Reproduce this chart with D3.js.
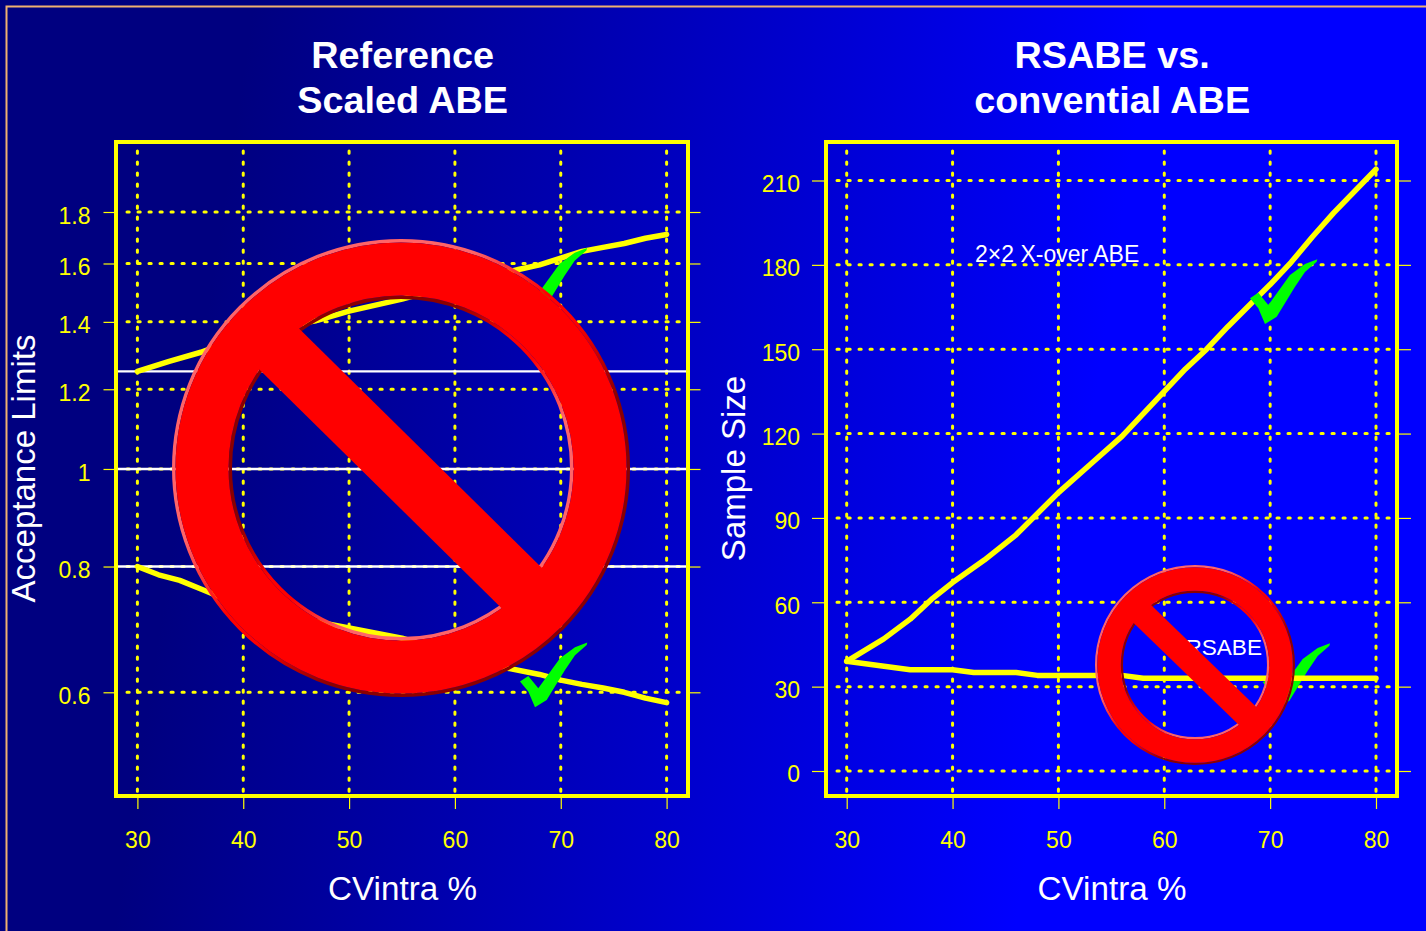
<!DOCTYPE html>
<html>
<head>
<meta charset="utf-8">
<script src="https://cdn.jsdelivr.net/npm/d3@7/dist/d3.min.js"></script>
<style>
html,body{margin:0;padding:0;background:#0000b0;overflow:hidden}
svg{display:block}
text{font-family:"Liberation Sans",Arial,sans-serif}
</style>
</head>
<body>
<svg id="c" width="1426" height="931"></svg>
<script>
// ---- data ----
const xTicks = [30, 40, 50, 60, 70, 80];
const limitTicks = [0.6, 0.8, 1, 1.2, 1.4, 1.6, 1.8];
const sizeTicks = [0, 30, 60, 90, 120, 150, 180, 210];
const referenceLimits = [1.25, 1, 0.8];

const upperCV = [30, 33, 36, 38, 42, 47, 50, 55, 60, 64, 66, 68, 70, 72, 74, 76, 78, 80];
const upperLimit = [1.25, 1.279, 1.306, 1.33, 1.37, 1.405, 1.435, 1.475, 1.525, 1.56, 1.578, 1.595, 1.62, 1.645, 1.66, 1.675, 1.695, 1.71];
const lowerCV = [30, 32, 34, 36, 38, 42, 46, 50, 55, 60, 65, 68, 70, 72, 74, 76, 78, 80];
const lowerLimit = [0.8, 0.785, 0.775, 0.76, 0.745, 0.725, 0.708, 0.695, 0.679, 0.655, 0.634, 0.625, 0.617, 0.611, 0.606, 0.6, 0.592, 0.586];

const xoverCV = [30, 33.5, 36, 38, 40, 43, 46, 50, 53, 56, 60, 62, 64, 66, 70, 72, 74, 76, 80];
const xoverSize = [39, 47, 54, 61, 67, 75, 84, 99, 109, 119, 135, 143, 150, 158, 173, 181, 190, 198.5, 214];
const rsabeCV = [30, 33, 36, 40, 42, 46, 48, 56, 58, 80];
const rsabeSize = [39, 37.5, 36, 36, 35, 35, 34, 34, 33, 33];

const title1 = ["Reference", "Scaled ABE"];
const title2 = ["RSABE vs.", "convential ABE"];

// ---- page ----
const svg = d3.select("#c");
const defs = svg.append("defs");
const bg = defs.append("linearGradient").attr("id", "bg")
  .attr("gradientUnits", "userSpaceOnUse")
  .attr("x1", 0).attr("y1", 0).attr("x2", 1130).attr("y2", 170);
bg.append("stop").attr("offset", 0.22).attr("stop-color", "#000080");
bg.append("stop").attr("offset", 1).attr("stop-color", "#0000ff");

function bevel(id, a, b) {
  const g = defs.append("linearGradient").attr("id", id)
    .attr("x1", 0.1).attr("y1", 0.1).attr("x2", 0.9).attr("y2", 0.9);
  g.append("stop").attr("offset", 0).attr("stop-color", a);
  g.append("stop").attr("offset", 0.3).attr("stop-color", a);
  g.append("stop").attr("offset", 0.46).attr("stop-color", "#ff0000");
  g.append("stop").attr("offset", 0.54).attr("stop-color", "#ff0000");
  g.append("stop").attr("offset", 0.7).attr("stop-color", b);
  g.append("stop").attr("offset", 1).attr("stop-color", b);
}
bevel("bevelOuter", "#ff6468", "#8a0000");
bevel("bevelInner", "#8a0000", "#ff6468");

svg.append("rect").attr("width", 1426).attr("height", 931).attr("fill", "url(#bg)");
svg.append("rect").attr("x", 6.5).attr("y", 6.5).attr("width", 1500).attr("height", 1000)
  .attr("fill", "none").attr("stroke", "#f0b070").attr("stroke-width", 2);

const YEL = "#ffff00";
const TOP = 142, BOTTOM = 796;
const line = d3.line().curve(d3.curveLinear);

function checkMark(g, bx, by) {
  const shape = [[-15,-25.7],[-6.7,-31.3],[3.3,-19],[25,-49],[40,-60],[52.3,-64.7],[51.7,-62.3],[40,-52],[30,-37.3],[11.7,-7.3],[0,0],[-6.7,-15.7]];
  g.append("path")
    .attr("transform", `translate(${bx},${by})`)
    .attr("d", d3.line().curve(d3.curveLinearClosed)(shape))
    .attr("fill", "#00ff00");
}

function banSign(g, cx, cy, R, r, w, sw, slash) {
  const mid = (R + r) / 2;
  g.append("circle").attr("cx", cx).attr("cy", cy).attr("r", R - sw / 2)
    .attr("fill", "none").attr("stroke", "url(#bevelOuter)").attr("stroke-width", sw);
  g.append("circle").attr("cx", cx).attr("cy", cy).attr("r", r + sw / 2)
    .attr("fill", "none").attr("stroke", "url(#bevelInner)").attr("stroke-width", sw);
  g.append("circle").attr("cx", cx).attr("cy", cy).attr("r", mid)
    .attr("fill", "none").attr("stroke", "#ff0000").attr("stroke-width", R - r - 2 * sw);
  g.append("line")
    .attr("x1", slash[0]).attr("y1", slash[1]).attr("x2", slash[2]).attr("y2", slash[3])
    .attr("stroke", "#ff0000").attr("stroke-width", w);
}

function panel(o) {
  const g = svg.append("g");
  const x = d3.scaleLinear().domain([30, 80]).range(o.xRange);
  const y = o.y;

  // dotted grid
  g.append("g").selectAll("line").data(xTicks).join("line")
    .attr("x1", d => x(d)).attr("x2", d => x(d)).attr("y1", 151).attr("y2", BOTTOM)
    .attr("stroke", YEL).attr("stroke-width", 3).attr("stroke-linecap", "round").attr("stroke-dasharray", "2.2 8.8");
  g.append("g").selectAll("line").data(o.yTicks).join("line")
    .attr("x1", o.left + 11).attr("x2", o.right).attr("y1", d => y(d)).attr("y2", d => y(d))
    .attr("stroke", YEL).attr("stroke-width", 3).attr("stroke-linecap", "round").attr("stroke-dasharray", "2.2 8.8");

  if (o.under) o.under(g, x, y);

  // curves
  o.curves.forEach(c => {
    g.append("path")
      .attr("d", line(c.xs.map((v, i) => [x(v), y(c.ys[i])])))
      .attr("fill", "none").attr("stroke", YEL).attr("stroke-width", 5.5)
      .attr("stroke-linecap", "round").attr("stroke-linejoin", "round");
  });

  // axes
  const axB = g.append("g").attr("transform", `translate(0,${BOTTOM})`)
    .call(d3.axisBottom(x).tickValues(xTicks).tickSize(13).tickPadding(22.5));
  const axL = g.append("g").attr("transform", `translate(${o.left},0)`)
    .call(d3.axisLeft(y).tickValues(o.yTicks).tickSize(o.tick).tickPadding(o.pad).tickFormat(d => String(d)));
  const axR = g.append("g").attr("transform", `translate(${o.right},0)`)
    .call(d3.axisRight(y).tickValues(o.yTicks).tickSize(o.tick).tickFormat(""));
  [axB, axL, axR].forEach(a => {
    a.select(".domain").remove();
    a.selectAll("line").attr("stroke", YEL).attr("stroke-width", 1.2);
    a.selectAll("text").attr("fill", YEL).attr("font-size", 23)
      .attr("font-family", '"Liberation Sans",Arial,sans-serif');
  });
  axL.selectAll("text").attr("dy", o.dy);

  // frame
  g.append("rect").attr("x", o.left).attr("y", TOP)
    .attr("width", o.right - o.left).attr("height", BOTTOM - TOP)
    .attr("fill", "none").attr("stroke", YEL).attr("stroke-width", 4);

  // titles
  const cx = (o.left + o.right) / 2;
  o.title.forEach((t, i) => {
    g.append("text").attr("x", cx + 0.7).attr("y", 68 + i * 45)
      .attr("text-anchor", "middle").attr("fill", "#fff")
      .attr("font-weight", "bold").attr("font-size", 37.8).text(t);
  });
  g.append("text").attr("x", cx + 0.5).attr("y", 900).attr("text-anchor", "middle")
    .attr("fill", "#fff").attr("font-size", 33.2).text("CVintra %");
  g.append("text")
    .attr("transform", `translate(${o.yLabelX},468.5) rotate(-90)`)
    .attr("text-anchor", "middle").attr("fill", "#fff")
    .attr("font-size", 33).text(o.yLabel);

  if (o.over) o.over(g, x, y);
}

panel({
  left: 116, right: 688, xRange: [137.4, 666.6], pad: 13, tick: 12.5, dy: "0.48em", title: title1,
  yLabel: "Acceptance Limits", yLabelX: 35, yTicks: limitTicks,
  y: d3.scaleLog().domain([0.6, 1.8]).range([692.3, 212]),
  curves: [{xs: upperCV, ys: upperLimit}, {xs: lowerCV, ys: lowerLimit}],
  under(g, x, y) {
    g.append("g").selectAll("line").data(referenceLimits).join("line")
      .attr("x1", 116).attr("x2", 688).attr("y1", d => y(d)).attr("y2", d => y(d))
      .attr("stroke", "#fff").attr("stroke-width", 2.4);
  },
  over(g) {
    checkMark(g, 535, 707.3);
    checkMark(g, 534.7, 312.7);
    banSign(g, 401, 468, 229, 169, 57, 3.5, [262, 332, 540, 606]);
  }
});

panel({
  left: 826, right: 1397, xRange: [846.7, 1376], pad: 12, tick: 14, dy: "0.47em", title: title2,
  yLabel: "Sample Size", yLabelX: 745, yTicks: sizeTicks,
  y: d3.scaleLinear().domain([0, 210]).range([771, 180.5]),
  curves: [{xs: xoverCV, ys: xoverSize}, {xs: rsabeCV, ys: rsabeSize}],
  under(g) {
    checkMark(g, 1277.7, 708);
  },
  over(g) {
    g.append("text").attr("x", 975).attr("y", 262).attr("fill", "#fff")
      .attr("font-size", 23).text("2×2 X-over ABE");
    checkMark(g, 1265, 324);
    g.append("text").attr("x", 1262).attr("y", 655).attr("text-anchor", "end").attr("fill", "#fff")
      .attr("font-size", 22.6).text("RSABE");
    banSign(g, 1195, 665, 100, 72, 25, 2.2, [1130, 602, 1260, 728]);
  }
});
</script>
</body>
</html>
